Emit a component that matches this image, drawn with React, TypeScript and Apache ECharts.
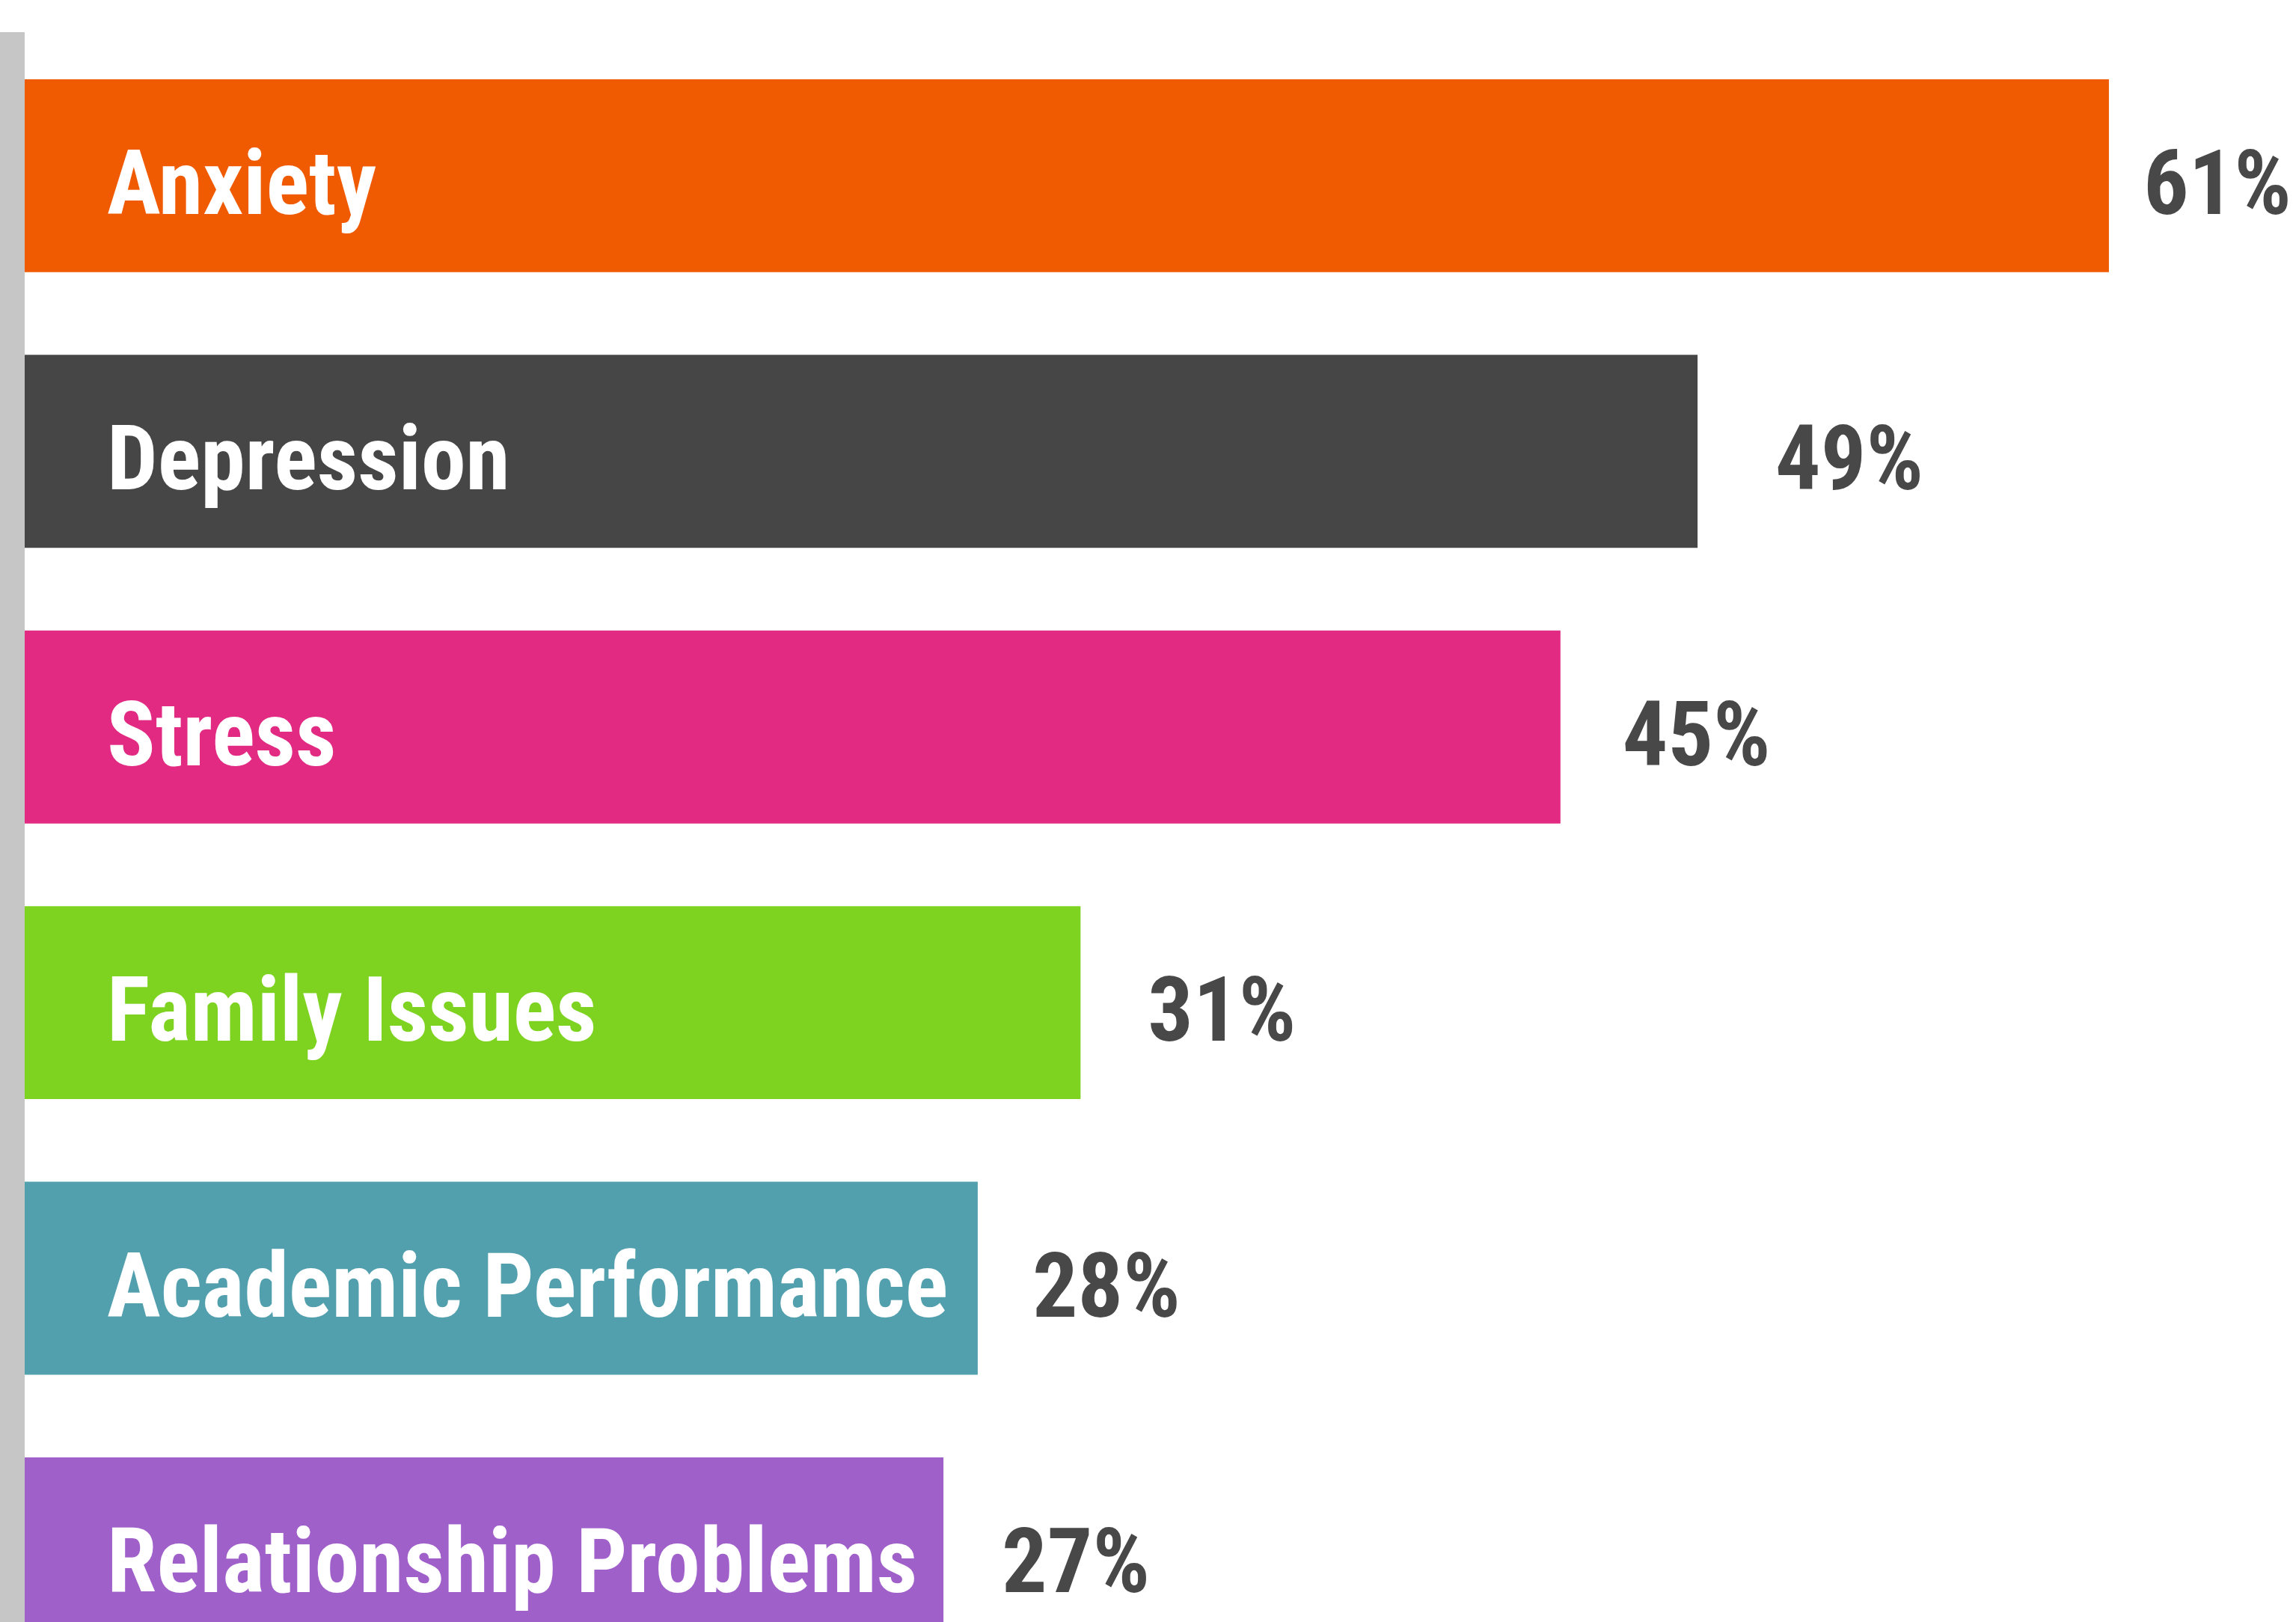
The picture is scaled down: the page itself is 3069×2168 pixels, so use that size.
import React, { useEffect, useRef } from "react";
import * as echarts from "echarts";

const categories = [
  "Anxiety",
  "Depression",
  "Stress",
  "Family Issues",
  "Academic Performance",
  "Relationship Problems",
];
const values = [61, 49, 45, 31, 28, 27];
const barColors = ["#f05a00", "#464646", "#e22a82", "#7ed321", "#529fae", "#a060ca"];
// gap (px) between each bar end and its value label, as seen in the reference
const labelGaps = [46, 104, 83, 90, 73, 78];

const FONT = "'Roboto Condensed', 'Liberation Sans Narrow', 'Arial Narrow', sans-serif";

export default function App() {
  const ref = useRef<HTMLDivElement>(null);
  useEffect(() => {
    if (!ref.current) return;
    const chart = echarts.init(ref.current, undefined, { renderer: "svg" });
    chart.setOption({
      animation: false,
      backgroundColor: "#ffffff",
      grid: {
        left: 24,
        top: 50.7,
        width: 3024,
        height: 2210.4,
        containLabel: false,
        outerBoundsMode: "none",
      },
      xAxis: {
        type: "value",
        min: 0,
        max: 66,
        show: false,
        splitLine: { show: false },
      },
      yAxis: {
        type: "category",
        data: categories,
        inverse: true,
        axisLine: { show: false },
        axisTick: { show: false },
        splitLine: { show: false },
        axisLabel: { show: false },
      },
      series: [
        {
          type: "bar",
          name: "bars",
          data: values.map((v, i) => ({
            value: v,
            itemStyle: { color: barColors[i] },
          })),
          barGap: "-100%",
          barCategoryGap: "30%",
          label: {
            show: true,
            position: "insideLeft",
            distance: 119,
            offset: [0, 10],
            formatter: "{b}",
            color: "#ffffff",
            fontSize: 120,
            fontWeight: "bold",
            fontFamily: FONT,
          },
        },
        {
          type: "bar",
          name: "values",
          silent: true,
          data: values.map((v, i) => ({
            value: v,
            label: { distance: labelGaps[i] },
          })),
          itemStyle: { color: "rgba(0,0,0,0)" },
          barGap: "-100%",
          barCategoryGap: "30%",
          label: {
            show: true,
            position: "right",
            offset: [0, 10],
            formatter: "{c}%",
            color: "#484848",
            fontSize: 120,
            fontWeight: "bold",
            fontFamily: FONT,
          },
        },
      ],
      graphic: [
        {
          type: "rect",
          z: 100,
          shape: { x: 0, y: 43, width: 33, height: 2168 - 43 },
          style: { fill: "#c6c6c6" },
        },
      ],
    });
    return () => chart.dispose();
  }, []);
  return (
    <div
      ref={ref}
      style={{ position: "absolute", left: 0, top: 0, width: 3069, height: 2168 }}
    />
  );
}
